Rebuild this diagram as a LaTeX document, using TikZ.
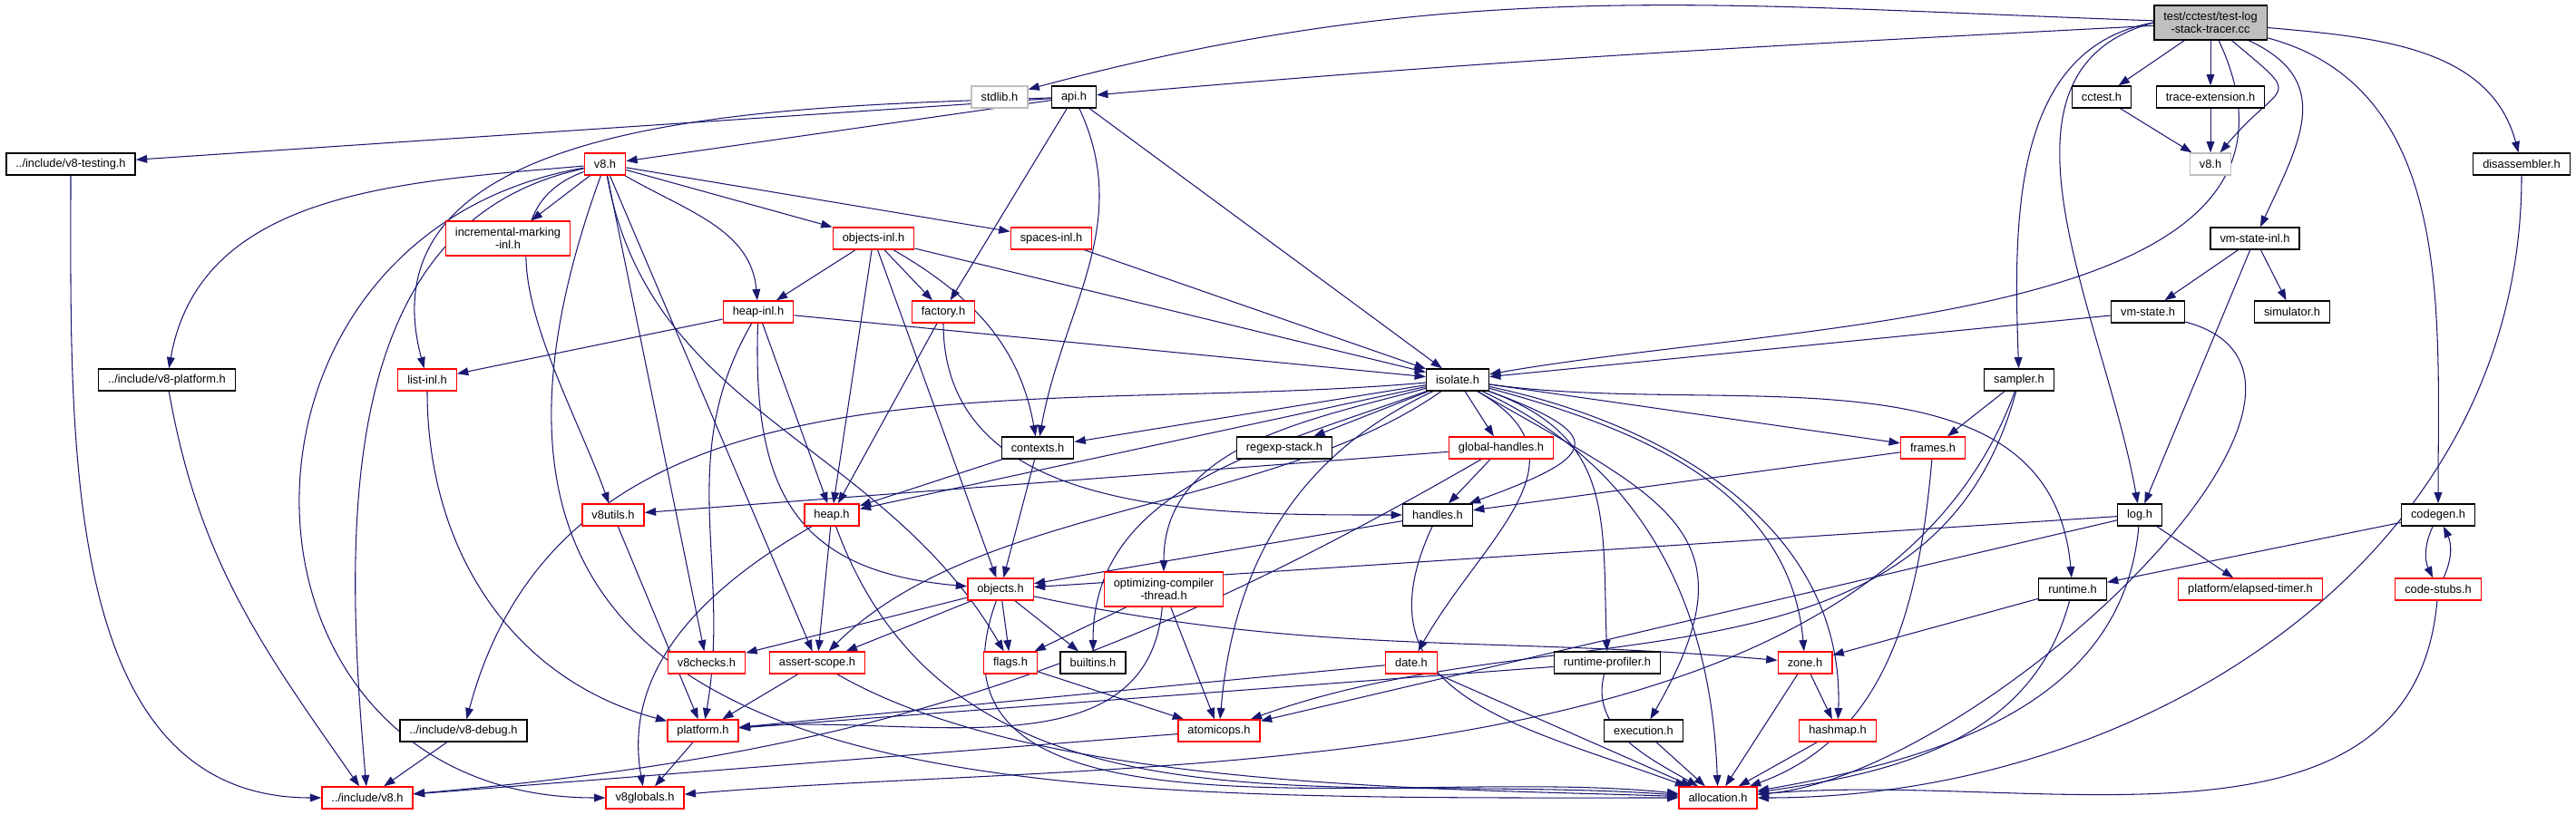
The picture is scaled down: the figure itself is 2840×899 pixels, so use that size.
\documentclass[tikz,border=0pt]{standalone}
\usepackage{fontspec}
\setsansfont{Liberation Sans}
\usepackage{tikz}
\usetikzlibrary{arrows.meta, backgrounds}
\definecolor{edgeblue}{HTML}{191970}
\definecolor{truncred}{HTML}{FF0000}
\definecolor{extgray}{HTML}{BFBFBF}

\begin{document}
\begin{tikzpicture}[
  x=0.02cm, y=-0.02cm,
  hdr/.style={draw=black, fill=white, line width=0.8pt, inner xsep=6pt, inner ysep=1pt, minimum height=0.48cm, align=center, font=\sffamily\fontsize{7.3}{7.6}\selectfont},
  hdrred/.style={hdr, draw=truncred},
  hdrext/.style={hdr, draw=extgray},
  hdrroot/.style={hdr, fill=extgray, minimum height=0.76cm},
  twoline/.style={minimum height=0.76cm},
  incl/.style={draw=edgeblue, line width=0.6pt, -{Triangle[length=7pt, width=5pt]}}
]
\useasboundingbox (0,0) rectangle (2840,899);

\node[hdrroot] (tlst) at (2437,25) {test/cctest/test-log\\-stack-tracer.cc};
\node[hdrext] (stdlib) at (1102,107) {stdlib.h};
\node[hdr] (api) at (1184,107) {api.h};
\node[hdr] (cctest) at (2317,107) {cctest.h};
\node[hdr] (traceext) at (2437,107) {trace-extension.h};
\node[hdr] (v8testing) at (78,181) {../include/v8-testing.h};
\node[hdrred] (v8h) at (667,181) {v8.h};
\node[hdrext] (v8sys) at (2437,181) {v8.h};
\node[hdr] (disasm) at (2780,181) {disassembler.h};
\node[hdrred, twoline] (incmark) at (560,263) {incremental-marking\\-inl.h};
\node[hdrred] (objinl) at (963,263) {objects-inl.h};
\node[hdrred] (spacesinl) at (1159,263) {spaces-inl.h};
\node[hdr] (vmstateinl) at (2486,263) {vm-state-inl.h};
\node[hdrred] (heapinl) at (836,344) {heap-inl.h};
\node[hdrred] (factory) at (1040,344) {factory.h};
\node[hdr] (vmstate) at (2368,344) {vm-state.h};
\node[hdr] (simulator) at (2527,344) {simulator.h};
\node[hdr] (v8platform) at (184,419) {../include/v8-platform.h};
\node[hdrred] (listinl) at (471,419) {list-inl.h};
\node[hdr] (isolate) at (1607,419) {isolate.h};
\node[hdr] (sampler) at (2226,419) {sampler.h};
\node[hdr] (contexts) at (1144,494) {contexts.h};
\node[hdr] (regexp) at (1416,494) {regexp-stack.h};
\node[hdrred] (globalh) at (1655,494) {global-handles.h};
\node[hdrred] (frames) at (2131,494) {frames.h};
\node[hdrred] (v8utils) at (676,568) {v8utils.h};
\node[hdrred] (heap) at (917,568) {heap.h};
\node[hdr] (handles) at (1585,568) {handles.h};
\node[hdr] (logh) at (2359,568) {log.h};
\node[hdr] (codegen) at (2688,568) {codegen.h};
\node[hdrred] (objects) at (1103,650) {objects.h};
\node[hdrred, twoline] (optcomp) at (1283,650) {optimizing-compiler\\-thread.h};
\node[hdr] (runtime) at (2285,650) {runtime.h};
\node[hdrred] (elapsed) at (2481,650) {platform/elapsed-timer.h};
\node[hdrred] (codestubs) at (2688,650) {code-stubs.h};
\node[hdrred] (v8checks) at (779,731) {v8checks.h};
\node[hdrred] (assertscope) at (901,731) {assert-scope.h};
\node[hdrred] (flags) at (1114,731) {flags.h};
\node[hdr] (builtins) at (1205,731) {builtins.h};
\node[hdrred] (date) at (1556,731) {date.h};
\node[hdr] (rtprof) at (1772,731) {runtime-profiler.h};
\node[hdrred] (zone) at (1990,731) {zone.h};
\node[hdr] (v8debug) at (511,806) {../include/v8-debug.h};
\node[hdrred] (platform) at (775,806) {platform.h};
\node[hdrred] (atomicops) at (1344,806) {atomicops.h};
\node[hdr] (execution) at (1812,806) {execution.h};
\node[hdrred] (hashmap) at (2026,806) {hashmap.h};
\node[hdrred] (incv8) at (405,880) {../include/v8.h};
\node[hdrred] (v8globals) at (711,880) {v8globals.h};
\node[hdrred] (allocation) at (1894,880) {allocation.h};

\begin{scope}[on background layer]
% test file
\draw[incl] (tlst) to[out=178,in=15] (stdlib);
\draw[incl] (tlst) to[out=183,in=5] (api);
\draw[incl] (tlst) -- (cctest);
\draw[incl] (tlst) -- (traceext);
\draw[incl] (tlst) to[out=-40,in=50,looseness=2.2] (v8sys);
\draw[incl] (tlst) to[out=-65,in=10] (isolate);
\draw[incl] (tlst.west) to[out=190,in=92] (sampler);
\draw[incl] (tlst.west) to[out=195,in=100] (logh);
\draw[incl] (tlst) to[out=-25,in=65,looseness=1.3] (vmstateinl);
\draw[incl] (tlst) to[out=-15,in=90] (codegen);
\draw[incl] (tlst) to[out=-5,in=105] (disasm);
\draw[incl] (cctest) -- (v8sys);
\draw[incl] (traceext) -- (v8sys);
\draw[incl] (disasm) to[out=-90,in=0] (allocation);

% api.h
\draw[incl] (api) -- (v8h);
\draw[incl] (api) -- (v8testing);
\draw[incl] (api) to[out=182,in=105] (listinl);
\draw[incl] (api) -- (factory);
\draw[incl] (api) to[out=-65,in=80] (contexts);
\draw[incl] (api) -- (isolate);

% v8.h
\draw[incl] (v8h) -- (incmark);
\draw[incl] (v8h) -- (objinl);
\draw[incl] (v8h) -- (spacesinl);
\draw[incl] (v8h) to[out=-30,in=95] (heapinl);
\draw[incl] (v8h) to[out=185,in=80] (v8platform);
\draw[incl] (v8h) to[out=190,in=180,looseness=1.6] (v8globals);
\draw[incl] (v8h) to[out=192,in=95] (incv8);
\draw[incl] (v8h) to[out=-110,in=180,looseness=1.4] (allocation);
\draw[incl] (v8h) to[out=200,in=110] (v8utils);
\draw[incl] (v8h) -- (v8checks);
\draw[incl] (v8h) -- (assertscope);
\draw[incl] (v8h) to[out=-80,in=120] (flags);

% inline headers
\draw[incl] (objinl) -- (heapinl);
\draw[incl] (objinl) -- (factory);
\draw[incl] (objinl) -- (heap);
\draw[incl] (objinl) -- (objects);
\draw[incl] (objinl) to[out=-30,in=100] (contexts);
\draw[incl] (objinl) -- (isolate);
\draw[incl] (spacesinl) -- (isolate);
\draw[incl] (heapinl) -- (listinl);
\draw[incl] (heapinl) -- (isolate);
\draw[incl] (heapinl) -- (heap);
\draw[incl] (heapinl) to[out=-92,in=175,looseness=1.3] (objects);
\draw[incl] (heapinl) to[out=-120,in=80] (platform);
\draw[incl] (factory) -- (heap);
\draw[incl] (factory) to[out=-90,in=180] (handles);
\draw[incl] (listinl) to[out=-90,in=165] (platform);
\draw[incl] (v8testing) to[out=-90,in=180] (incv8);
\draw[incl] (v8platform) to[out=-80,in=125] (incv8);
\draw[incl] (v8debug) -- (incv8);
\draw[incl] (v8utils) -- (platform);
\draw[incl] (platform) -- (v8globals);

% isolate.h
\draw[incl] (isolate) -- (contexts);
\draw[incl] (isolate) -- (regexp);
\draw[incl] (isolate) -- (globalh);
\draw[incl] (isolate) to[out=-20,in=20,looseness=3] (handles);
\draw[incl] (isolate) -- (heap);
\draw[incl] (isolate) -- (frames);
\draw[incl] (isolate) to[out=-8,in=95] (runtime);
\draw[incl] (isolate) to[out=-15,in=95] (zone);
\draw[incl] (isolate) to[out=-12,in=88] (hashmap);
\draw[incl] (isolate) to[out=-25,in=92] (allocation);
\draw[incl] (isolate) to[out=-30,in=60,looseness=1.5] (execution);
\draw[incl] (isolate) to[out=-20,in=92,looseness=1.2] (rtprof);
\draw[incl] (isolate) to[out=-30,in=60,looseness=1.3] (date);
\draw[incl] (isolate) to[out=205,in=85] (atomicops);
\draw[incl] (isolate) to[out=200,in=90] (builtins);
\draw[incl] (isolate) to[out=195,in=90] (optcomp);
\draw[incl] (isolate) to[out=185,in=75] (v8debug);
\draw[incl] (isolate) to[out=215,in=45,looseness=0.8] (assertscope);

% middle rows
\draw[incl] (contexts) -- (heap);
\draw[incl] (contexts) -- (objects);
\draw[incl] (globalh) -- (handles);
\draw[incl] (globalh) -- (v8utils);
\draw[incl] (globalh) to[out=-150,in=5] (incv8);
\draw[incl] (handles) -- (objects);
\draw[incl] (handles) to[out=-115,in=160,looseness=1.3] (allocation);
\draw[incl] (frames) -- (handles);
\draw[incl] (frames) to[out=-95,in=20] (allocation);
\draw[incl] (heap) -- (assertscope);
\draw[incl] (heap) to[out=-150,in=100] (v8globals);
\draw[incl] (heap) to[out=-70,in=176] (allocation);
\draw[incl] (objects) -- (v8checks);
\draw[incl] (objects) -- (assertscope);
\draw[incl] (objects) -- (flags);
\draw[incl] (objects) -- (builtins);
\draw[incl] (objects) to[out=-12,in=175] (zone);
\draw[incl] (objects) to[out=-110,in=174] (allocation);
\draw[incl] (optcomp) -- (flags);
\draw[incl] (optcomp) -- (atomicops);
\draw[incl] (optcomp) to[out=-95,in=5] (platform);
\draw[incl] (flags) -- (atomicops);
\draw[incl] (assertscope) -- (platform);
\draw[incl] (assertscope) to[out=-30,in=178,looseness=0.7] (allocation);
\draw[incl] (date) -- (platform);
\draw[incl] (date) -- (allocation);
\draw[incl] (rtprof) -- (platform);
\draw[incl] (rtprof) to[out=-105,in=150] (allocation);
\draw[incl] (execution) -- (allocation);
\draw[incl] (atomicops) -- (incv8);

% right side
\draw[incl] (vmstateinl) -- (vmstate);
\draw[incl] (vmstateinl) -- (simulator);
\draw[incl] (vmstateinl) -- (logh);
\draw[incl] (vmstate) -- (isolate);
\draw[incl] (vmstate) to[out=-15,in=5,looseness=0.9] (allocation);
\draw[incl] (sampler) -- (frames);
\draw[incl] (sampler) to[out=-105,in=20] (atomicops);
\draw[incl] (sampler) to[out=-110,in=5,looseness=0.8] (v8globals);
\draw[incl] (logh) -- (objects);
\draw[incl] (logh) -- (atomicops);
\draw[incl] (logh) -- (elapsed);
\draw[incl] (logh) to[out=-95,in=10] (allocation);
\draw[incl] (codegen) -- (runtime);
\draw[incl] (codegen) to[bend right=25] (codestubs);
\draw[incl] (codestubs) to[bend right=25] (codegen);
\draw[incl] (codestubs) to[out=-95,in=5] (allocation);
\draw[incl] (runtime) -- (zone);
\draw[incl] (runtime) to[out=-105,in=8] (allocation);
\draw[incl] (zone) -- (hashmap);
\draw[incl] (zone) -- (allocation);
\draw[incl] (hashmap) -- (allocation);
\end{scope}
\end{tikzpicture}
\end{document}
